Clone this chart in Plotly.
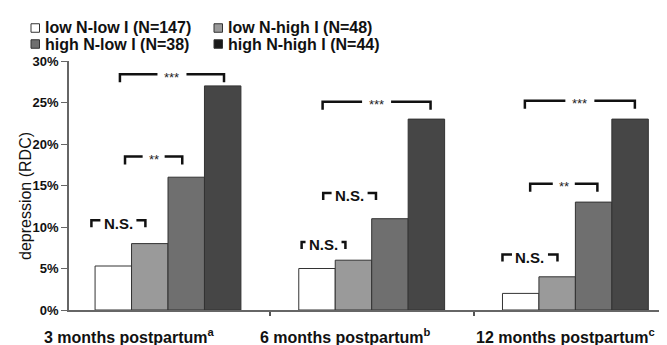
import plotly.graph_objects as go

# ---------------- data ----------------
periods = ["3 months postpartum", "6 months postpartum", "12 months postpartum"]
period_notes = ["a", "b", "c"]
groups = ["low N-low I (N=147)", "low N-high I (N=48)",
          "high N-low I (N=38)", "high N-high I (N=44)"]
low_n_low_i = [5.3, 5.0, 2.0]
low_n_high_i = [8.0, 6.0, 4.0]
high_n_low_i = [16.0, 11.0, 13.0]
high_n_high_i = [27.0, 23.0, 23.0]
y_ticks = [0, 5, 10, 15, 20, 25, 30]
y_tick_labels = ["0%", "5%", "10%", "15%", "20%", "25%", "30%"]
# significance labels per period and bracket heights (in %)
sig_period = [0, 0, 0, 1, 1, 1, 2, 2, 2]
sig_label = ["N.S.", "**", "***", "N.S.", "N.S.", "***", "N.S.", "**", "***"]
sig_height = [10.8, 18.5, 28.4, 8.2, 14.1, 25.1, 6.7, 15.2, 25.2]

# ---------------- styling / layout ----------------
series = [low_n_low_i, low_n_high_i, high_n_low_i, high_n_high_i]
bar_colors = ["#ffffff", "#9a9a9a", "#6f6f6f", "#464646"]
legend_colors = ["#ffffff", "#9a9a9a", "#6f6f6f", "#1a1a1a"]
FONT = "Liberation Sans, Arial, sans-serif"
INK = "#111111"

W, H = 667, 345
ML, MR, MT, MB = 61, 0, 53, 43
PW, PH = W - ML - MR, H - MT - MB
XR = [-0.486, 2.489]
PX_PER_UNIT = PW / (XR[1] - XR[0])
Y_PX_PER_PCT = PH / 30.0

# bracket horizontal extents relative to period centre (category units)
sig_extent = [(-0.376, -0.111), (-0.211, 0.070), (-0.236, 0.275),
              (-0.344, -0.129), (-0.238, 0.021), (-0.241, 0.289),
              (-0.358, -0.088), (-0.222, 0.108), (-0.248, 0.292)]


def px_x(px):
    return (px - ML) / PW


def px_y(py):
    return (H - MB - py) / PH


fig = go.Figure()
x_pos = list(range(len(periods)))
for name, vals, col in zip(groups, series, bar_colors):
    fig.add_trace(go.Bar(
        x=x_pos, y=vals, name=name,
        marker=dict(color=col, line=dict(color="#333333", width=1)),
        showlegend=False,
    ))

shapes = []
annotations = []

# significance brackets
for p, lab, h, (l, r) in zip(sig_period, sig_label, sig_height, sig_extent):
    xl, xr = p + l, p + r
    xc = (xl + xr) / 2
    if lab == "N.S.":
        gap_px, tick_px = 36, 7
    elif lab == "**":
        gap_px, tick_px = 22, 8
    else:
        gap_px, tick_px = 29, 8
    g = gap_px / 2 / PX_PER_UNIT
    t = tick_px / Y_PX_PER_PCT
    line = dict(color=INK, width=2.5)
    shapes.append(dict(type="path", xref="x", yref="y",
                       path=f"M {xl},{h - t} L {xl},{h} L {xc - g},{h}", line=line))
    shapes.append(dict(type="path", xref="x", yref="y",
                       path=f"M {xc + g},{h} L {xr},{h} L {xr},{h - t}", line=line))
    if lab == "N.S.":
        annotations.append(dict(x=xc, y=h, xref="x", yref="y", text=f"<b>{lab}</b>",
                                showarrow=False, xanchor="center", yanchor="middle",
                                yshift=-3, font=dict(family=FONT, size=15, color=INK)))
    else:
        annotations.append(dict(x=xc, y=h, xref="x", yref="y", text=lab, showarrow=False,
                                xanchor="center", yanchor="middle", yshift=-3,
                                font=dict(family=FONT, size=13, color="#222222")))

# category labels (left-aligned beneath each period)
label_left_px = [34, 250, 466]
for lab, note, lx in zip(periods, period_notes, label_left_px):
    annotations.append(dict(x=px_x(lx), y=px_y(328), xref="paper", yref="paper",
                            text=f"<b>{lab}<sup>{note}</sup></b>", showarrow=False,
                            xanchor="left", yanchor="middle",
                            font=dict(family=FONT, size=16, color=INK)))

# manual legend (2 x 2)
leg_pos = [(23, 20), (206, 20), (23, 36), (206, 36)]
for name, col, (lx, ly) in zip(groups, legend_colors, leg_pos):
    s = 8.5
    shapes.append(dict(type="rect", xref="paper", yref="paper",
                       x0=px_x(lx), x1=px_x(lx + s), y0=px_y(ly + s / 2), y1=px_y(ly - s / 2),
                       fillcolor=col, line=dict(color="#333333", width=1)))
    annotations.append(dict(x=px_x(lx + s + 3), y=px_y(ly), xref="paper", yref="paper",
                            text=f"<b>{name}</b>", showarrow=False, xanchor="left",
                            yanchor="middle", font=dict(family=FONT, size=16, color=INK)))

# y axis title
annotations.append(dict(x=px_x(17), y=px_y(188), xref="paper", yref="paper",
                        text="depression (RDC)", textangle=-90, showarrow=False,
                        xanchor="center", yanchor="middle",
                        font=dict(family=FONT, size=16, color=INK)))

fig.update_layout(
    width=W, height=H,
    margin=dict(l=ML, r=MR, t=MT, b=MB, pad=0),
    paper_bgcolor="white", plot_bgcolor="white",
    barmode="group", bargap=0.284, bargroupgap=0,
    shapes=shapes, annotations=annotations,
    xaxis=dict(range=XR, tickvals=[0.5, 1.5], ticktext=["", ""], ticks="outside",
               ticklen=4, tickcolor="#555555", tickwidth=1.5, showline=True,
               linecolor="#666666", linewidth=1.5, showgrid=False, zeroline=False,
               fixedrange=True),
    yaxis=dict(range=[0, 30], tickmode="array", tickvals=y_ticks,
               ticktext=[f"<b>{t}</b>" for t in y_tick_labels], ticks="outside",
               ticklen=6, tickcolor="#666666", showline=True, linecolor="#666666",
               linewidth=1.5, showgrid=False, zeroline=False,
               tickfont=dict(family=FONT, size=13, color=INK),
               fixedrange=True),
    font=dict(family=FONT),
)

fig.write_html("out.html", config={"displayModeBar": False})
